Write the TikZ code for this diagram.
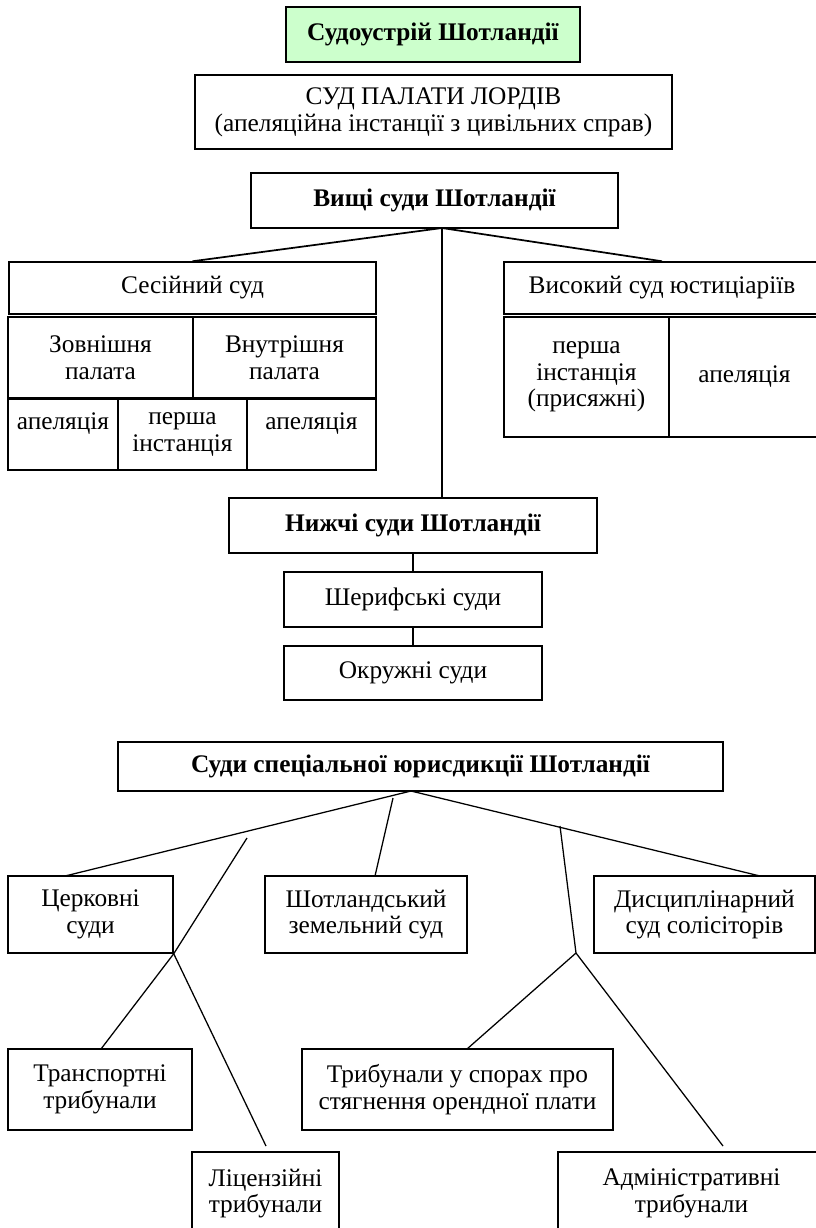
\documentclass[tikz,border=0pt]{standalone}
\usepackage{fontspec}
\setmainfont{Liberation Serif}
\usetikzlibrary{calc}
\definecolor{titlegreen}{HTML}{CCFFCC}

\begin{document}
\begin{tikzpicture}[
      x=0.75pt, y=-0.75pt,
      court/.style={rectangle, draw, line width=1.1pt, inner sep=1pt, align=center, font=\fontsize{19}{20}\selectfont},
      head/.style={court, font=\fontsize{19}{20}\selectfont\bfseries},
      link/.style={line width=1.3pt},
      branch/.style={line width=0.95pt}
    ]
    \useasboundingbox (0,0) rectangle (816,1228);

    \node[head, fill=titlegreen, minimum width=220.5pt, minimum height=41.25pt] (title) at (433,34.5) {Судоустрій Шотландії};
    \node[court, minimum width=357.75pt, minimum height=55.5pt] (lords) at (433.5,112) {СУД ПАЛАТИ ЛОРДІВ\\(апеляційна інстанції з цивільних справ)};
    \node[head, minimum width=275.25pt, minimum height=41.25pt] (higher) at (434.5,200.5) {Вищі суди Шотландії};

    \node[court, minimum width=275.25pt, minimum height=39pt] (session) at (192.5,288) {Сесійний суд};
    \node[court, minimum width=138.75pt, minimum height=60.75pt] (outer) at (100.5,357.5) {Зовнішня\\палата};
    \node[court, minimum width=137.25pt, minimum height=60.75pt] (inner) at (284.5,357.5) {Внутрішня\\палата};
    \node[court, minimum width=82.5pt, minimum height=53.25pt] (sess_app_a) at (63,434.5) {апеляція\\\mbox{}};
    \node[court, minimum width=96.75pt, minimum height=53.25pt] (sess_first) at (182.5,434.5) {перша\\інстанція};
    \node[court, minimum width=96.75pt, minimum height=53.25pt] (sess_app_b) at (311.5,434.5) {апеляція\\\mbox{}};

    \node[court, minimum width=237pt, minimum height=39pt] (high_just) at (662,288) {Високий суд юстиціаріїв};
    \node[court, minimum width=123.75pt, minimum height=90pt] (hj_first) at (586.5,377) {перша\\інстанція\\(присяжні)};
    \node[court, minimum width=113.25pt, minimum height=90pt] (hj_app) at (744.5,377) {апеляція};

    \node[head, minimum width=276pt, minimum height=41.25pt] (lower) at (413,525.5) {Нижчі суди Шотландії};
    \node[court, minimum width=193.5pt, minimum height=41.25pt] (sheriff) at (413,599.5) {Шерифські суди};
    \node[court, minimum width=193.5pt, minimum height=40.5pt] (district) at (413,673) {Окружні суди};

    \node[head, minimum width=453.75pt, minimum height=36.75pt] (special) at (420.5,766.5) {Суди спеціальної юрисдикції Шотландії};
    \node[court, minimum width=123.75pt, minimum height=57.75pt] (church) at (90.5,914.5) {Церковні\\суди};
    \node[court, minimum width=151.5pt, minimum height=57.75pt] (land) at (366,914.5) {Шотландський\\земельний суд};
    \node[court, minimum width=165.75pt, minimum height=57.75pt] (discip) at (704.5,914.5) {Дисциплінарний\\суд солісіторів};
    \node[court, minimum width=138pt, minimum height=60.75pt] (transport) at (100,1089.5) {Транспортні\\трибунали};
    \node[court, minimum width=233.25pt, minimum height=60.75pt] (rent) at (457.5,1089.5) {Трибунали у спорах про\\стягнення орендної плати};
    \node[court, minimum width=110.25pt, minimum height=62.25pt] (licence) at (265.5,1193.5) {Ліцензійні\\трибунали};
    \node[court, minimum width=200.25pt, minimum height=62.25pt] (admin) at (691.5,1193.5) {Адміністративні\\трибунали};

    \coordinate (hi_fork) at (442,228);
    \draw[link] (hi_fork) -- (session.north);
    \draw[link] (hi_fork) -- (high_just.north);
    \draw[link] (hi_fork) -- (hi_fork |- lower.north);
    \draw[link] (lower.south) -- (sheriff.north);
    \draw[link] (sheriff.south) -- (district.north);

    \coordinate (sp_fork) at (411,791);
    \coordinate (church_in) at (65,876);
    \coordinate (land_out) at (393,798);
    \coordinate (land_in) at (375,876);
    \coordinate (discip_in) at (760,876);
    \coordinate (rent_top) at (560,826);
    \coordinate (rent_fork) at (576,953);
    \coordinate (rent_in) at (467,1049);
    \coordinate (admin_end) at (723,1146);
    \coordinate (tr_top) at (247,838);
    \coordinate (transport_in) at (101,1049);
    \coordinate (lic_end) at (266,1146);

    \draw[branch] (sp_fork) -- (church_in);
    \draw[branch] (land_out) -- (land_in);
    \draw[branch] (sp_fork) -- (discip_in);
    \draw[branch] (rent_top) -- (rent_fork);
    \draw[branch] (rent_fork) -- (rent_in);
    \draw[branch] (rent_fork) -- (admin_end);
    \draw[branch] (tr_top) -- (church.south east);
    \draw[branch] (church.south east) -- (transport_in);
    \draw[branch] (church.south east) -- (lic_end);
  \end{tikzpicture}
\end{document}
